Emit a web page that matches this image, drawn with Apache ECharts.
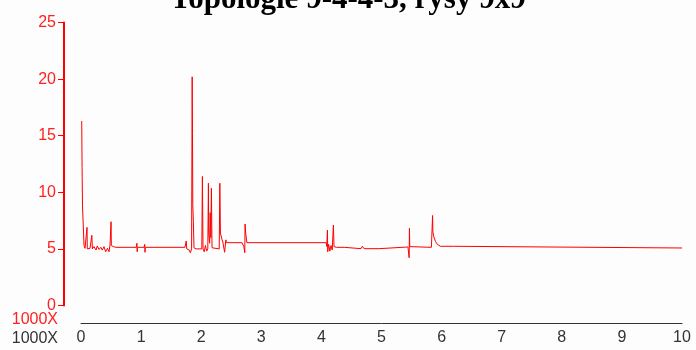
<!DOCTYPE html>
<html>
<head>
<meta charset="utf-8">
<script src="https://cdn.jsdelivr.net/npm/echarts@6/dist/echarts.min.js"></script>
<style>
html,body{margin:0;padding:0;background:#fdfdfd;}
#c{width:696px;height:350px;}
</style>
</head>
<body>
<div id="c"></div>
<script>
var titleText = "Topologie 9-4-4-3, rysy 9x9";
var xUnitLabel = "1000X";
var yUnitLabel = "1000X";
var xTicks = [0,1,2,3,4,5,6,7,8,9,10];
var yTicks = [0,5,10,15,20,25];

var xValues = [
  0.012,0.018,0.02,0.025,0.045,0.05,0.067,0.083,0.1,0.105,0.116,0.15,0.18,0.19,0.2,0.216,0.25,0.27,0.3,0.33,0.355,0.383,0.41,0.44,0.466,0.483,0.5,0.505,0.52,0.54,0.58,
  0.92,0.93,0.935,0.94,1.05,1.06,1.065,1.07,1.73,1.75,1.76,1.8,1.82,1.84,1.85,1.855,1.86,1.87,1.88,1.915,
  2.01,2.02,2.03,2.05,2.07,2.09,2.11,2.12,2.125,2.14,2.15,2.16,2.17,2.18,2.2,2.30,2.31,2.32,2.34,2.36,2.39,2.41,2.42,
  2.68,2.71,2.725,2.73,2.74,2.76,4.08,4.09,4.1,4.105,4.12,4.14,4.16,4.18,4.2,4.21,4.25,4.38,4.39,
  4.66,4.68,4.71,4.96,4.98,5.44,5.455,5.46,5.465,5.47,5.5,5.83,5.84,5.85,5.855,5.87,5.9,5.93,5.98,6.2,6.21,10.0
];
var yValues = [
  16.3,12.2,11.3,8.8,8.8,5.34,5.05,5.2,6.9,5.0,4.9,5.05,6.2,5.0,4.9,5.2,4.9,5.26,4.95,5.14,4.9,5.2,4.75,5.05,4.75,5.34,7.4,5.3,5.43,5.2,5.14,
  5.14,5.5,4.75,5.14,5.14,5.4,4.7,5.14,5.14,5.7,5.0,4.9,4.65,5.0,20.2,15.2,8.9,7.4,5.1,5.0,
  5.0,11.4,5.0,4.75,5.3,4.8,5.0,10.8,6.4,5.5,8.2,6.0,10.35,5.1,5.0,5.0,10.8,6.4,5.95,5.6,4.7,5.8,5.55,
  5.55,5.2,4.66,7.2,6.4,5.55,5.55,5.2,6.67,4.75,5.4,4.8,5.3,4.9,7.1,5.2,5.14,5.14,5.02,
  5.02,5.23,5.02,5.02,5.17,5.17,5.0,4.22,6.82,5.2,5.14,5.14,5.0,7.95,6.5,6.08,5.64,5.4,5.23,5.23,5.08,5.08
];

var seriesData = xValues.map(function(x,i){return [x, yValues[i]];});

var chart = echarts.init(document.getElementById('c'), null, {renderer:'canvas'});
chart.setOption({
  backgroundColor:'#fdfdfd',
  animation:false,
  grid:{left:81,right:14,top:22.5,bottom:44.5,containLabel:false},
  xAxis:{
    type:'value',min:xTicks[0],max:xTicks[xTicks.length-1],interval:1,
    offset:17.5,
    axisLine:{show:true,onZero:false,lineStyle:{color:'#333333',width:1}},
    axisTick:{show:false},
    splitLine:{show:false},
    axisLabel:{color:'#333333',fontFamily:'Liberation Sans, Arial',fontSize:16,margin:7}
  },
  yAxis:{
    type:'value',min:yTicks[0],max:yTicks[yTicks.length-1],interval:5,
    offset:17,
    axisLine:{show:true,onZero:false,lineStyle:{color:'#ff0000',width:2}},
    axisTick:{show:true,length:6,lineStyle:{color:'#ff0000',width:1}},
    splitLine:{show:false},
    axisLabel:{color:'#ff2020',fontFamily:'Liberation Sans, Arial',fontSize:16,margin:8}
  },
  graphic:[
    {type:'text',left:'center',top:-16,style:{text:titleText,font:'bold 31px "Liberation Serif", "Times New Roman", serif',fill:'#000'}},
    {type:'text',right:696-58,top:312,style:{text:yUnitLabel,font:'16px "Liberation Sans", Arial',fill:'#ff2020'}},
    {type:'text',right:696-58,top:331,style:{text:xUnitLabel,font:'16px "Liberation Sans", Arial',fill:'#333333'}}
  ],
  series:[{
    type:'line',data:seriesData,symbol:'none',
    lineStyle:{color:'#ff0000',width:1},
    clip:false
  }]
});
</script>
</body>
</html>
